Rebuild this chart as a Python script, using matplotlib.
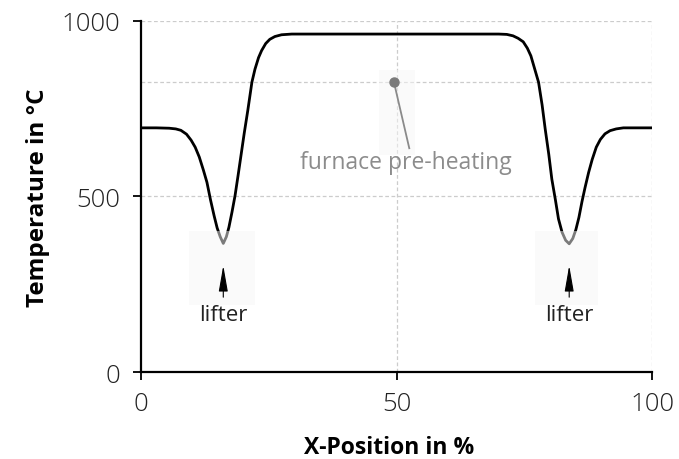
import matplotlib
matplotlib.use("Agg")
import matplotlib.pyplot as plt
from matplotlib.patches import Rectangle

# Temperature profile (X-position in %, temperature in C)
x_pos = [0, 3, 5.5, 6.8, 7.8, 8.9, 9.8, 10.6, 11.4, 12.2, 12.9, 13.6, 14.3,
         14.9, 15.5, 16.1, 16.7, 17.2, 17.8, 18.4, 19.0, 19.6, 20.2, 20.9,
         21.7, 22.3, 23.0, 23.6, 24.4, 25.2, 26.2, 27.5, 29.5, 40, 50,
         60, 70, 71.6, 72.8, 73.8, 74.8, 75.6, 76.3, 77.0, 77.8, 78.5, 79.1,
         79.8, 80.4, 81.1, 81.7, 82.4, 83.1, 83.8, 84.5, 85.1, 85.7, 86.3,
         86.9, 87.6, 88.3, 89.1, 89.9, 90.8, 91.8, 93.0, 94.4, 97, 100]
temp = [695, 695, 694, 692, 688, 677, 660, 640, 612, 575, 540, 490, 445,
        410, 385, 366, 385, 412, 455, 502, 560, 620, 680, 745,
        825, 862, 895, 915, 935, 947, 955, 960, 962, 962, 962,
        962, 962, 961, 957, 950, 940, 922, 900, 865, 825, 760, 692,
        620, 549, 490, 436, 398, 375, 365, 380, 405, 440, 485,
        525, 568, 605, 640, 662, 678, 687, 692, 695, 695, 695]

preheat_level = 825
lifter_x = [16.1, 83.8]
x_ticks = [0, 50, 100]
y_ticks = [0, 500, 1000]

plt.rcParams["font.family"] = ["Open Sans", "DejaVu Sans"]

fig = plt.figure(figsize=(6.79, 4.60), dpi=100)
ax = fig.add_axes([0.2077, 0.1891, 0.7525, 0.7637])

grid_kw = dict(color="#cccccc", lw=0.9, ls=(0, (3, 2)), zorder=0)
for yv in [1000, preheat_level, 500]:
    ax.axhline(yv, **grid_kw)
for xv in [50, 100]:
    ax.axvline(xv, **grid_kw)

ax.plot(x_pos, temp, color="black", lw=2.0, zorder=2,
        solid_joinstyle="round", solid_capstyle="round")

# faint boxes around the annotation graphics
for bx, by, bw, bh in [(9.4, 190, 12.9, 210), (77.1, 190, 12.3, 210),
                       (46.6, 618, 7.0, 242)]:
    ax.add_patch(Rectangle((bx, by), bw, bh, facecolor="#f7f7f7",
                           edgecolor="none", alpha=0.5, zorder=3))

# furnace pre-heating annotation
ax.plot([49.5, 52.5], [preheat_level, 637], color="#8a8a8a", lw=1.3, zorder=4)
ax.plot([49.5], [preheat_level], "o", color="#7a7a7a", ms=6.5, zorder=5)
ax.text(51.9, 598, "furnace pre-heating", color="#8c8c8c", fontsize=16.5,
        ha="center", va="center", zorder=5)

# lifter annotations
for lx in lifter_x:
    ax.annotate("", xy=(lx, 303), xytext=(lx, 213),
                arrowprops=dict(arrowstyle="-|>,head_length=1.6,head_width=0.28",
                                mutation_scale=10, color="black", lw=0.8,
                                shrinkA=0, shrinkB=0), zorder=5)
    ax.text(lx, 163, "lifter", color="#222222", fontsize=16,
            ha="center", va="center", zorder=5)

ax.set_xlim(0, 100)
ax.set_ylim(0, 1000)
ax.set_xticks(x_ticks)
ax.set_yticks(y_ticks)
for side in ["top", "right"]:
    ax.spines[side].set_visible(False)
for side in ["left", "bottom"]:
    ax.spines[side].set_linewidth(1.6)
ax.tick_params(direction="out", length=6, width=1.3, labelsize=18.5,
               labelcolor="#222222")
ax.tick_params(axis="y", pad=9)
ax.tick_params(axis="x", pad=8)
for lab in ax.get_xticklabels() + ax.get_yticklabels():
    lab.set_fontweight("light")

ax.set_xlabel("X-Position in %", fontsize=16.5, fontweight="bold")
ax.xaxis.set_label_coords(0.486, -0.18)
ax.set_ylabel("Temperature in \u00b0C", fontsize=17.5, fontweight="bold",
              labelpad=8)

fig.savefig("out.png", dpi=100)
